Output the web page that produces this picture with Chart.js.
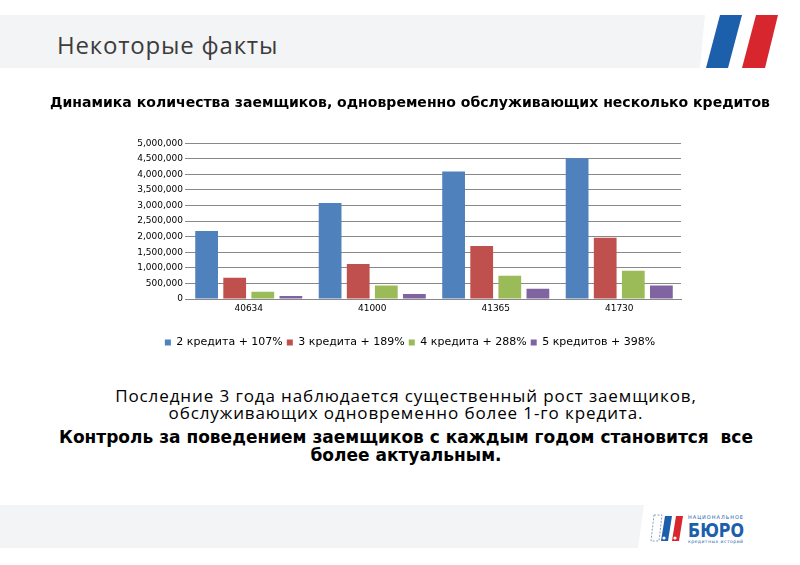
<!doctype html>
<html lang="ru">
<head>
    <meta charset="utf-8">
    <title>Некоторые факты</title>
    <script src="https://cdn.jsdelivr.net/npm/chart.js"></script>
    <style>
        html, body { margin: 0; padding: 0; background: #fff; }
        body { width: 800px; height: 565px; position: relative; overflow: hidden; }
        #deco { position: absolute; left: 0; top: 0; }
        .head { position: absolute; left: 57px; top: 28px; font: 24px "Open Sans", sans-serif; letter-spacing: 0.8px; color: #3c3c3c; }
        .wrap { position: absolute; left: 40px; top: 85px; width: 740px; height: 280px; }
        .txt { position: absolute; left: 0; width: 812px; text-align: center; color: #000; }
        .t1 { top: 387px; font: 17px/17px "Open Sans", sans-serif; letter-spacing: 0.9px; }
        .t2 { top: 428px; font: bold 17px/18px "DejaVu Sans", sans-serif; white-space: pre; }
    </style>
</head>
<body>
    <svg id="deco" width="800" height="565">
        <!-- header band + stripes -->
        <polygon points="0,15 705,15 700,68 0,68" fill="#f3f4f5"/>
        <polygon points="720,15 742,15 728,68 706,68" fill="#1c5fab"/>
        <polygon points="756,15 778,15 765,68 742,68" fill="#d8262e"/>
        <!-- footer band + logo -->
        <polygon points="0,505 644,505 638,548 0,548" fill="#f3f4f5"/>
        <polygon points="654,515 662,515 659,541 651,541" fill="none" stroke="#8aa0c0" stroke-width="1" stroke-dasharray="2,1.5"/>
        <polygon points="665,516 672,516 668,541 661,541" fill="#1c5fab"/>
        <polygon points="676,516 683,516 679,541 672,541" fill="#d8262e"/>
        <circle cx="664" cy="538" r="1.6" fill="#fff"/>
        <circle cx="675" cy="538" r="1.6" fill="#fff"/>
        <text x="688" y="519" font-family="DejaVu Sans" font-size="5" fill="#1c5fab" textLength="55">НАЦИОНАЛЬНОЕ</text>
        <text x="688" y="537" font-family="DejaVu Sans" font-weight="bold" font-size="19" fill="#1c5fab" textLength="56" lengthAdjust="spacingAndGlyphs">БЮРО</text>
        <text x="688" y="543" font-family="DejaVu Sans" font-size="4.5" fill="#1c5fab" textLength="55">кредитных историй</text>
    </svg>

    <div class="head">Некоторые факты</div>

    <div class="wrap"><canvas id="creditChart" width="740" height="280"></canvas></div>

    <div class="txt t1">Последние 3 года наблюдается существенный рост заемщиков,<br>обслуживающих одновременно более 1-го кредита.</div>
    <div class="txt t2">Контроль за поведением заемщиков с каждым годом становится  все
более актуальным.</div>

    <script>
        // values
        const categories = ['40634', '41000', '41365', '41730'];
        const seriesNames = ['2 кредита + 107%', '3 кредита + 189%', '4 кредита + 288%', '5 кредитов + 398%'];
        const twoCredits = [2180000, 3080000, 4090000, 4520000];
        const threeCredits = [680000, 1120000, 1700000, 1970000];
        const fourCredits = [230000, 430000, 750000, 910000];
        const fiveCredits = [100000, 160000, 330000, 430000];
        const seriesColors = ['#4f81bd', '#c0504d', '#9bbb59', '#8064a2'];

        const allValues = [twoCredits, threeCredits, fourCredits, fiveCredits];

        const datasets = seriesNames.map((name, i) => ({
            label: name,
            data: allValues[i],
            backgroundColor: seriesColors[i],
            borderWidth: 0,
            categoryPercentage: 0.91,
            barPercentage: 0.81
        }));

        const config = {
            type: 'bar',
            data: { labels: categories, datasets: datasets },
            options: {
                responsive: false,
                animation: false,
                layout: { padding: { left: 10, right: 10, top: 0, bottom: 7 } },
                plugins: {
                    title: {
                        display: true,
                        text: 'Динамика количества заемщиков, одновременно обслуживающих несколько кредитов',
                        color: '#000',
                        font: { family: 'DejaVu Sans', size: 14.4, weight: 'bold' },
                        padding: { top: 10, bottom: 31 }
                    },
                    legend: {
                        position: 'bottom',
                        labels: {
                            color: '#000',
                            font: { family: 'DejaVu Sans', size: 11 },
                            boxWidth: 6,
                            boxHeight: 6,
                            padding: 4
                        }
                    },
                    tooltip: { enabled: false }
                },
                scales: {
                    x: {
                        afterFit: (scale) => { scale.height = 34; },
                        grid: { display: false, drawTicks: false },
                        border: { color: '#888', width: 1 },
                        ticks: { color: '#000', font: { family: 'DejaVu Sans', size: 9 }, padding: 4 }
                    },
                    y: {
                        min: 0,
                        max: 5000000,
                        afterFit: (scale) => { scale.width = 137; },
                        border: { display: false },
                        grid: { color: '#888', lineWidth: 1, tickLength: 2 },
                        ticks: {
                            stepSize: 500000,
                            color: '#000',
                            font: { family: 'DejaVu Sans', size: 9 },
                            padding: 2,
                            callback: (v) => v.toLocaleString('en-US')
                        }
                    },
                    // empty axis on the right, only keeps the plot narrower than the title
                    yRight: {
                        type: 'linear',
                        position: 'right',
                        afterFit: (scale) => { scale.width = 89; },
                        grid: { display: false, drawTicks: false },
                        border: { display: false },
                        ticks: { display: false }
                    }
                }
            }
        };

        new Chart(document.getElementById('creditChart'), config);
    </script>
</body>
</html>
